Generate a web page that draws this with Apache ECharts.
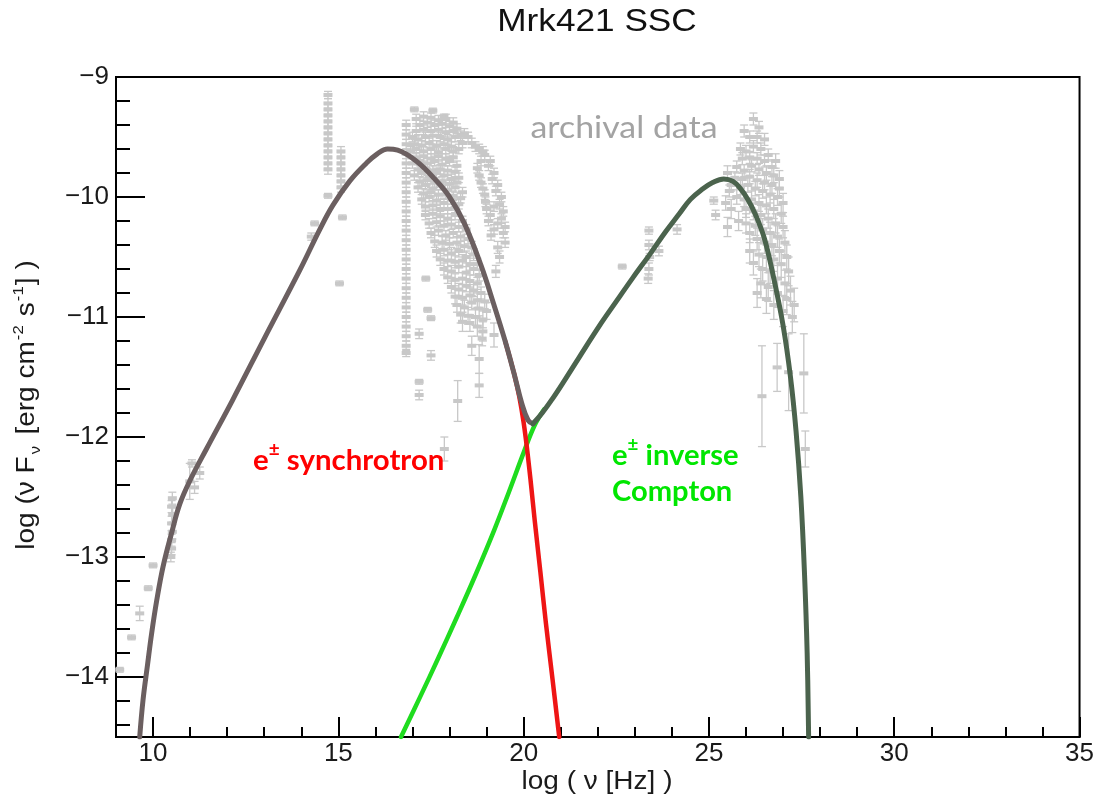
<!DOCTYPE html>
<html>
<head>
<meta charset="utf-8">
<script src="https://cdn.jsdelivr.net/npm/echarts@6/dist/echarts.min.js"></script>
<style>
html,body{margin:0;padding:0;background:#fff;}
#chart{width:1097px;height:798px;}
</style>
</head>
<body>
<div id="chart"></div>
<script>
// ---- Tick values ----
const xMajorTicks = [10, 15, 20, 25, 30, 35];
const xMinorTicks = [10, 11, 12, 13, 14, 15, 16, 17, 18, 19, 20, 21, 22, 23, 24, 25, 26, 27, 28, 29, 30, 31, 32, 33, 34, 35];
const yMajorTicks = [-14, -13, -12, -11, -10, -9];
const yMinorTicks = [-14.4, -14.2, -14, -13.8, -13.6, -13.4, -13.2, -13, -12.8, -12.6, -12.4, -12.2, -12,
  -11.8, -11.6, -11.4, -11.2, -11, -10.8, -10.6, -10.4, -10.2, -10, -9.8, -9.6, -9.4, -9.2];

// ---- Model curves [log nu, log nuFnu] ----
const totalSync = [
  [9.64, -14.5], [9.73, -14.19], [9.85, -13.9], [9.96, -13.64], [10.1, -13.36], [10.27, -13.08], [10.5, -12.8],
  [10.72, -12.56], [11.0, -12.36], [11.44, -12.1], [12.15, -11.69], [13.0, -11.18], [13.96, -10.61],
  [14.5, -10.27], [14.85, -10.07], [15.3, -9.87], [15.75, -9.72], [16.05, -9.64], [16.33, -9.6],
  [16.6, -9.61], [17.1, -9.7], [17.6, -9.85], [18.0, -10.0], [18.4, -10.22], [18.85, -10.57],
  [19.2, -10.9], [19.5, -11.2], [19.74, -11.47], [19.95, -11.72], [20.12, -11.86], [20.25, -11.89]
];
const totalIC = [
  [20.25, -11.89], [20.5, -11.8], [20.78, -11.68], [21.1, -11.53], [21.49, -11.34], [22.03, -11.08],
  [22.5, -10.87], [22.93, -10.68], [23.4, -10.48], [23.83, -10.29], [24.2, -10.14], [24.5, -10.02],
  [24.8, -9.94], [25.1, -9.88], [25.4, -9.85], [25.65, -9.87], [25.85, -9.93], [26.05, -10.02],
  [26.26, -10.15], [26.5, -10.35], [26.75, -10.68], [27.0, -11.07], [27.2, -11.5], [27.35, -11.95],
  [27.48, -12.5], [27.58, -13.15], [27.65, -13.8], [27.69, -14.5]
];
const syncComp = [
  [19.5, -11.2], [19.74, -11.47], [19.88, -11.66], [20.0, -11.88], [20.1, -12.12], [20.2, -12.4],
  [20.3, -12.7], [20.45, -13.12], [20.6, -13.55], [20.78, -14.02], [20.96, -14.5]
];
const icComp = [
  [16.69, -14.5], [17.2, -14.17], [17.7, -13.84], [18.2, -13.5], [18.7, -13.15], [19.2, -12.78],
  [19.6, -12.46], [20.0, -12.13], [20.3, -11.9], [20.55, -11.77]
];

// ---- Archival data [log nu, log nuFnu, error] ----
const archRadio = [
  [9.1, -13.94, 0.02], [9.42, -13.67, 0.02], [9.64, -13.47, 0.06], [9.87, -13.26, 0.02], [10.0, -13.07, 0.02],
  [10.48, -13.0, 0.04], [10.5, -12.93, 0.05], [10.5, -12.86, 0.05], [10.52, -12.79, 0.06], [10.5, -12.72, 0.06],
  [10.53, -12.65, 0.06], [10.5, -12.58, 0.05], [10.52, -12.51, 0.05],
  [10.99, -12.37, 0.15], [11.12, -12.42, 0.05], [11.26, -12.3, 0.05], [11.05, -12.22, 0.03]
];
const archMm = [
  [14.72, -9.15, 0.03], [14.72, -9.22, 0.04], [14.72, -9.27, 0.04], [14.72, -9.32, 0.04], [14.72, -9.37, 0.04],
  [14.72, -9.42, 0.04], [14.72, -9.47, 0.04], [14.72, -9.52, 0.04], [14.72, -9.57, 0.04], [14.72, -9.62, 0.04],
  [14.72, -9.67, 0.04], [14.72, -9.72, 0.04], [14.72, -9.77, 0.04], [14.72, -9.99, 0.02],
  [15.07, -9.62, 0.04], [15.07, -9.67, 0.04], [15.07, -9.72, 0.04], [15.07, -9.77, 0.04], [15.07, -9.82, 0.04],
  [15.07, -9.87, 0.04], [15.07, -9.92, 0.04],
  [14.36, -10.22, 0.02], [14.27, -10.33, 0.03], [15.11, -10.17, 0.02], [15.03, -10.72, 0.02]
];
const archOptX = [
  [16.83, -9.4, 0.04], [16.83, -9.48, 0.04], [16.83, -9.56, 0.04], [16.83, -9.64, 0.04], [16.83, -9.72, 0.04],
  [16.83, -9.8, 0.04], [16.83, -9.88, 0.04], [16.83, -9.96, 0.04], [16.83, -10.04, 0.04], [16.83, -10.12, 0.04],
  [16.83, -10.2, 0.04], [16.83, -10.28, 0.04], [16.83, -10.36, 0.04], [16.83, -10.44, 0.04], [16.83, -10.52, 0.04],
  [16.83, -10.6, 0.04], [16.83, -10.68, 0.04], [16.83, -10.76, 0.04], [16.83, -10.84, 0.04], [16.83, -10.92, 0.04],
  [16.83, -11.0, 0.04], [16.83, -11.08, 0.04], [16.83, -11.16, 0.04], [16.83, -11.24, 0.04], [16.83, -11.3, 0.03],
  [17.05, -9.27, 0.02], [17.55, -9.28, 0.02], [17.85, -9.33, 0.02],
  [17.2, -9.4, 0.04], [17.4, -9.38, 0.04], [17.6, -9.4, 0.04], [17.8, -9.39, 0.04], [18.0, -9.41, 0.04], [18.2, -9.43, 0.04], [18.4, -9.47, 0.04],
  [17.0, -9.5, 0.04], [17.15, -9.52, 0.04], [17.35, -9.5, 0.04], [17.55, -9.49, 0.04], [17.75, -9.5, 0.04], [17.95, -9.52, 0.04],
  [18.15, -9.5, 0.04], [18.35, -9.55, 0.04], [18.6, -9.55, 0.04], [18.8, -9.6, 0.04],
  [16.95, -9.62, 0.04], [17.1, -9.6, 0.04], [17.3, -9.62, 0.04], [17.5, -9.6, 0.04], [17.7, -9.63, 0.04], [17.9, -9.6, 0.04],
  [18.1, -9.62, 0.04], [18.95, -9.65, 0.04], [19.1, -9.7, 0.04],
  [17.0, -9.72, 0.04], [17.2, -9.7, 0.04], [17.4, -9.72, 0.04], [17.6, -9.7, 0.04], [17.8, -9.73, 0.04], [18.0, -9.7, 0.04],
  [18.2, -9.74, 0.04], [18.75, -9.76, 0.04], [19.2, -9.8, 0.04],
  [17.05, -9.82, 0.04], [17.25, -9.8, 0.04], [17.45, -9.83, 0.04], [17.65, -9.8, 0.04], [17.85, -9.82, 0.04], [18.05, -9.85, 0.04],
  [18.25, -9.84, 0.04], [18.85, -9.88, 0.04], [19.3, -9.9, 0.04],
  [17.15, -9.92, 0.04], [17.35, -9.9, 0.04], [17.55, -9.93, 0.04], [17.75, -9.9, 0.04], [17.95, -9.94, 0.04], [18.15, -9.92, 0.04],
  [18.35, -9.96, 0.04], [18.95, -9.98, 0.04], [19.4, -10.0, 0.04],
  [17.25, -10.02, 0.04], [17.45, -10.0, 0.04], [17.65, -10.03, 0.04], [17.85, -10.05, 0.04], [18.05, -10.02, 0.04], [18.25, -10.06, 0.04],
  [19.0, -10.1, 0.04], [19.2, -10.08, 0.04], [19.45, -10.12, 0.04],
  [17.35, -10.15, 0.04], [17.55, -10.14, 0.04], [17.75, -10.16, 0.04], [17.95, -10.18, 0.04], [18.15, -10.15, 0.04], [18.35, -10.2, 0.04],
  [19.05, -10.2, 0.04], [19.3, -10.22, 0.04], [19.5, -10.25, 0.04],
  [17.5, -10.3, 0.04], [17.7, -10.28, 0.04], [17.9, -10.32, 0.04], [18.1, -10.3, 0.04], [18.3, -10.33, 0.04], [18.5, -10.35, 0.04],
  [19.12, -10.32, 0.04], [19.5, -10.38, 0.04],
  [17.65, -10.45, 0.05], [17.85, -10.44, 0.05], [18.05, -10.47, 0.05], [18.25, -10.45, 0.05], [18.45, -10.5, 0.05], [18.65, -10.48, 0.05],
  [19.35, -10.5, 0.05],
  [17.85, -10.6, 0.05], [18.05, -10.62, 0.05], [18.25, -10.58, 0.05], [18.45, -10.63, 0.05], [18.65, -10.6, 0.05], [18.8, -10.65, 0.05],
  [19.25, -10.62, 0.05],
  [18.05, -10.75, 0.05], [18.25, -10.77, 0.05], [18.45, -10.74, 0.05], [18.65, -10.78, 0.05], [18.85, -10.8, 0.05],
  [18.2, -10.9, 0.06], [18.4, -10.92, 0.06], [18.6, -10.88, 0.06], [18.8, -10.93, 0.06], [19.0, -10.95, 0.07],
  [18.35, -11.04, 0.08], [18.55, -11.05, 0.07], [18.75, -11.08, 0.08], [18.9, -11.12, 0.08], [19.2, -11.15, 0.1],
  [18.6, -11.24, 0.08], [18.8, -11.35, 0.12], [18.88, -11.18, 0.06], [18.8, -11.57, 0.1],
  [17.36, -10.68, 0.02], [17.41, -10.94, 0.02], [17.5, -11.01, 0.02], [17.18, -11.14, 0.04], [17.5, -11.32, 0.04],
  [17.18, -11.54, 0.02], [17.18, -11.65, 0.04], [18.22, -11.7, 0.17], [17.86, -12.1, 0.1]
];
const archOptX2 = [
  [17.1, -9.35, 0.04], [17.3, -9.33, 0.04], [17.5, -9.34, 0.04], [17.7, -9.36, 0.04], [17.9, -9.35, 0.04], [18.1, -9.38, 0.04],
  [17.1, -9.45, 0.04], [17.3, -9.44, 0.04], [17.5, -9.45, 0.04], [17.7, -9.44, 0.04], [17.9, -9.46, 0.04], [18.1, -9.45, 0.04], [18.3, -9.49, 0.04], [18.5, -9.5, 0.04],
  [17.05, -9.56, 0.04], [17.25, -9.57, 0.04], [17.45, -9.55, 0.04], [17.65, -9.57, 0.04], [17.85, -9.56, 0.04], [18.05, -9.58, 0.04], [18.25, -9.6, 0.04], [18.7, -9.58, 0.04], [18.9, -9.62, 0.04],
  [17.1, -9.67, 0.04], [17.3, -9.66, 0.04], [17.5, -9.68, 0.04], [17.7, -9.66, 0.04], [17.9, -9.68, 0.04], [18.1, -9.67, 0.04], [18.85, -9.7, 0.04], [19.05, -9.74, 0.04],
  [17.15, -9.77, 0.04], [17.35, -9.76, 0.04], [17.55, -9.78, 0.04], [17.75, -9.77, 0.04], [17.95, -9.78, 0.04], [18.15, -9.79, 0.04], [18.8, -9.82, 0.04], [19.15, -9.85, 0.04],
  [17.2, -9.87, 0.04], [17.4, -9.86, 0.04], [17.6, -9.88, 0.04], [17.8, -9.87, 0.04], [18.0, -9.89, 0.04], [18.2, -9.88, 0.04], [18.9, -9.93, 0.04], [19.25, -9.95, 0.04],
  [17.3, -9.97, 0.04], [17.5, -9.96, 0.04], [17.7, -9.98, 0.04], [17.9, -9.98, 0.04], [18.1, -9.99, 0.04], [18.3, -10.01, 0.04], [18.97, -10.04, 0.04], [19.35, -10.06, 0.04],
  [17.35, -10.08, 0.04], [17.55, -10.07, 0.04], [17.75, -10.1, 0.04], [17.95, -10.1, 0.04], [18.15, -10.09, 0.04], [19.1, -10.15, 0.04], [19.4, -10.18, 0.04],
  [17.45, -10.22, 0.04], [17.65, -10.21, 0.04], [17.85, -10.24, 0.04], [18.05, -10.23, 0.04], [18.25, -10.25, 0.04], [18.45, -10.27, 0.04], [19.2, -10.27, 0.04], [19.45, -10.3, 0.04],
  [17.6, -10.37, 0.05], [17.8, -10.38, 0.05], [18.0, -10.39, 0.05], [18.2, -10.38, 0.05], [18.4, -10.41, 0.05], [18.6, -10.42, 0.05], [19.3, -10.42, 0.05],
  [17.75, -10.52, 0.05], [17.95, -10.53, 0.05], [18.15, -10.54, 0.05], [18.35, -10.53, 0.05], [18.55, -10.56, 0.05], [18.75, -10.56, 0.05],
  [17.95, -10.67, 0.05], [18.15, -10.69, 0.05], [18.35, -10.68, 0.05], [18.55, -10.7, 0.05], [18.75, -10.72, 0.05],
  [18.15, -10.83, 0.06], [18.35, -10.84, 0.06], [18.55, -10.82, 0.06], [18.75, -10.86, 0.06], [18.95, -10.87, 0.06],
  [18.3, -10.98, 0.07], [18.5, -10.99, 0.07], [18.7, -11.0, 0.07], [18.9, -11.02, 0.07]
];
const archGamma = [
  [22.66, -10.58, 0.02],
  [23.38, -10.28, 0.03], [23.38, -10.4, 0.04], [23.4, -10.5, 0.03], [23.38, -10.6, 0.05], [23.36, -10.68, 0.04],
  [23.65, -10.45, 0.04], [24.14, -10.27, 0.04], [25.13, -10.03, 0.03], [25.18, -10.15, 0.04],
  [26.2, -9.35, 0.05], [26.35, -9.42, 0.05], [26.1, -9.5, 0.05],
  [25.85, -9.6, 0.05], [26.0, -9.62, 0.05], [26.2, -9.58, 0.05], [26.4, -9.6, 0.05], [26.6, -9.65, 0.05], [26.8, -9.7, 0.06],
  [25.75, -9.75, 0.05], [25.95, -9.78, 0.05], [26.15, -9.74, 0.05], [26.35, -9.77, 0.05], [26.55, -9.8, 0.06], [26.75, -9.82, 0.06], [26.9, -9.85, 0.07],
  [25.5, -9.8, 0.06], [25.55, -9.95, 0.05],
  [25.6, -9.9, 0.05], [25.85, -9.92, 0.06], [26.05, -9.9, 0.06], [26.25, -9.93, 0.06], [26.45, -9.95, 0.06], [26.65, -9.98, 0.07], [26.85, -10.0, 0.07], [27.0, -10.05, 0.08],
  [25.45, -10.05, 0.06], [25.6, -10.1, 0.08], [26.0, -10.1, 0.07], [26.2, -10.12, 0.07], [26.4, -10.15, 0.08], [26.6, -10.18, 0.08], [26.8, -10.22, 0.08], [27.0, -10.25, 0.09],
  [25.5, -10.25, 0.08], [26.1, -10.3, 0.08], [26.3, -10.35, 0.09], [26.5, -10.38, 0.09], [26.7, -10.4, 0.09], [26.9, -10.45, 0.1], [27.1, -10.5, 0.1],
  [26.2, -10.55, 0.1], [26.45, -10.6, 0.1], [26.65, -10.62, 0.1], [26.85, -10.68, 0.11], [27.05, -10.72, 0.11], [27.2, -10.78, 0.12],
  [26.3, -10.8, 0.12], [26.55, -10.85, 0.12], [26.75, -10.9, 0.12], [27.0, -10.95, 0.13], [27.25, -11.0, 0.13],
  [26.43, -11.66, 0.42], [26.84, -11.42, 0.2], [27.15, -11.46, 0.32], [27.56, -11.47, 0.33], [27.6, -12.1, 0.15]
];
const archGamma2 = [
  [25.95, -9.45, 0.05], [26.3, -9.5, 0.05], [26.5, -9.52, 0.05], [25.9, -9.68, 0.05], [26.1, -9.67, 0.05], [26.3, -9.68, 0.05],
  [26.5, -9.7, 0.05], [26.7, -9.75, 0.06], [25.7, -9.84, 0.05], [25.9, -9.85, 0.05], [26.1, -9.83, 0.06], [26.3, -9.86, 0.06],
  [26.5, -9.88, 0.06], [26.7, -9.9, 0.07], [26.9, -9.93, 0.07], [25.75, -10.0, 0.06], [25.95, -10.02, 0.06], [26.15, -10.02, 0.07],
  [26.35, -10.05, 0.07], [26.55, -10.07, 0.07], [26.75, -10.1, 0.08], [26.95, -10.14, 0.08], [25.8, -10.2, 0.08], [26.0, -10.22, 0.08],
  [26.25, -10.24, 0.08], [26.45, -10.27, 0.09], [26.65, -10.3, 0.09], [26.85, -10.33, 0.09], [27.05, -10.38, 0.1], [26.1, -10.45, 0.1],
  [26.35, -10.48, 0.1], [26.55, -10.5, 0.1], [26.75, -10.52, 0.1], [26.95, -10.56, 0.11], [27.15, -10.62, 0.12], [26.4, -10.72, 0.12],
  [26.6, -10.75, 0.12], [26.85, -10.8, 0.12], [27.1, -10.85, 0.13], [27.3, -10.9, 0.14]
];

// ---- Texts ----
const titleText = 'Mrk421 SSC';
const xTitle = 'log ( \u03bd [Hz] )';

const AXIS_FONT = '"Liberation Sans", Arial, Helvetica, sans-serif';
const NOTE_FONT = 'Lato, "Open Sans", sans-serif';
const ERR_COLOR = '#c8c8c8';

function fmtTick(v) {
  return (v < 0 ? '\u2212' : '') + Math.abs(v);
}

function renderErr(params, api) {
  const x = api.value(0), y = api.value(1), e = api.value(2);
  const c = api.coord([x, y]);
  const t = api.coord([x, y + e]);
  const b = api.coord([x, y - e]);
  const st = { stroke: ERR_COLOR, lineWidth: 1.3 };
  return {
    type: 'group',
    children: [
      { type: 'line', shape: { x1: c[0], y1: t[1], x2: c[0], y2: b[1] }, style: st },
      { type: 'line', shape: { x1: c[0] - 4, y1: t[1], x2: c[0] + 4, y2: t[1] }, style: st },
      { type: 'line', shape: { x1: c[0] - 4, y1: b[1], x2: c[0] + 4, y2: b[1] }, style: st },
      { type: 'rect', shape: { x: c[0] - 4.5, y: c[1] - 2, width: 9, height: 4 }, style: { fill: ERR_COLOR } }
    ]
  };
}

function errSeries(name, data) {
  return {
    name: name, type: 'custom', renderItem: renderErr, data: data,
    encode: { x: 0, y: 1 }, xAxisIndex: 0, yAxisIndex: 0, z: 1, silent: true
  };
}

function lineSeries(name, data, color, width, z) {
  return {
    name: name, type: 'line', data: data, showSymbol: false, smooth: 0.4,
    lineStyle: { color: color, width: width, cap: 'round', join: 'round' },
    xAxisIndex: 0, yAxisIndex: 0, z: z, silent: true
  };
}

const chart = echarts.init(document.getElementById('chart'), null, { renderer: 'canvas' });

const axisLineStyle = { color: '#000', width: 2 };

const option = {
  animation: false,
  backgroundColor: '#fff',
  grid: { left: 116, right: 16, top: 77, bottom: 61, show: true, borderColor: '#000', borderWidth: 2, containLabel: false },
  xAxis: [
    {
      type: 'value', min: 9, max: 35, position: 'bottom',
      axisLine: { show: true, onZero: false, lineStyle: axisLineStyle },
      axisTick: { show: true, inside: true, length: 10, customValues: xMinorTicks, lineStyle: axisLineStyle },
      axisLabel: { show: true, customValues: xMajorTicks, margin: 4, fontSize: 26, color: '#1a1a1a', fontFamily: AXIS_FONT, formatter: fmtTick },
      splitLine: { show: false }
    },
    {
      type: 'value', min: 9, max: 35, position: 'bottom', offset: 0,
      axisLine: { show: false },
      axisTick: { show: true, inside: true, length: 20, customValues: xMajorTicks, lineStyle: axisLineStyle },
      axisLabel: { show: false },
      splitLine: { show: false }
    }
  ],
  yAxis: [
    {
      type: 'value', min: -14.5, max: -9, position: 'left',
      axisLine: { show: true, onZero: false, lineStyle: axisLineStyle },
      axisTick: { show: true, inside: true, length: 14, customValues: yMinorTicks, lineStyle: axisLineStyle },
      axisLabel: { show: true, customValues: yMajorTicks, margin: 7, fontSize: 26, color: '#1a1a1a', fontFamily: AXIS_FONT, formatter: fmtTick },
      splitLine: { show: false }
    },
    {
      type: 'value', min: -14.5, max: -9, position: 'left', offset: 0,
      axisLine: { show: false },
      axisTick: { show: true, inside: true, length: 29, customValues: yMajorTicks, lineStyle: axisLineStyle },
      axisLabel: { show: false },
      splitLine: { show: false }
    }
  ],
  series: [
    errSeries('archival radio', archRadio),
    errSeries('archival mm', archMm),
    errSeries('archival optical-X', archOptX),
    errSeries('archival optical-X 2', archOptX2),
    errSeries('archival gamma', archGamma),
    errSeries('archival gamma 2', archGamma2),
    lineSeries('IC component', icComp, '#1fdc1f', 4.5, 3),
    lineSeries('synchrotron component', syncComp, '#ee1515', 4.5, 3),
    lineSeries('total (sync)', totalSync, '#6b5f60', 5, 4),
    lineSeries('total (IC)', totalIC, '#4b634d', 5, 4)
  ],
  graphic: [
    { type: 'text', x: 597, y: 22, z: 10, scaleX: 1.1,
      style: { text: titleText, fontSize: 32, fontFamily: AXIS_FONT, fill: '#111', align: 'center', verticalAlign: 'middle' } },
    { type: 'text', x: 597, y: 782, z: 10, scaleX: 1.12,
      style: { text: xTitle, fontSize: 25, fontFamily: AXIS_FONT, fill: '#1a1a1a', align: 'center', verticalAlign: 'middle' } },
    { type: 'text', x: 27, y: 405, rotation: Math.PI / 2, scaleX: 1.12, z: 10,
      style: {
        text: '{n|log (\u03bd F}{sub|\u03bd}{n| [erg cm}{sup|-2}{n| s}{sup|-1}{n|] )}',
        align: 'center', verticalAlign: 'middle',
        rich: {
          n: { fontSize: 25, fontFamily: AXIS_FONT, fill: '#1a1a1a', lineHeight: 38, verticalAlign: 'middle' },
          sub: { fontSize: 15, fontFamily: AXIS_FONT, fill: '#1a1a1a', lineHeight: 15, verticalAlign: 'bottom', padding: [0, 3, 3, 2] },
          sup: { fontSize: 15, fontFamily: AXIS_FONT, fill: '#1a1a1a', lineHeight: 15, verticalAlign: 'top', padding: [3, 1, 0, 1] }
        }
      } },
    { type: 'text', x: 624, y: 128, z: 10, scaleX: 1.13,
      style: { text: 'archival data', fontSize: 30, fontFamily: NOTE_FONT, fill: '#a3a3a3', align: 'center', verticalAlign: 'middle' } },
    { type: 'text', x: 253, y: 458, z: 10, scaleX: 1.05,
      style: {
        text: '{b|e}{s|\u00b1}{b| synchrotron}', align: 'left', verticalAlign: 'middle',
        rich: {
          b: { fontSize: 28, fontWeight: 'bold', fontFamily: NOTE_FONT, fill: '#ff0000', lineHeight: 34, verticalAlign: 'bottom' },
          s: { fontSize: 18, fontWeight: 'bold', fontFamily: NOTE_FONT, fill: '#ff0000', lineHeight: 18, verticalAlign: 'top' }
        }
      } },
    { type: 'text', x: 612, y: 453, z: 10, scaleX: 1.04,
      style: {
        text: '{b|e}{s|\u00b1}{b| inverse}', align: 'left', verticalAlign: 'middle',
        rich: {
          b: { fontSize: 28, fontWeight: 'bold', fontFamily: NOTE_FONT, fill: '#00e600', lineHeight: 34, verticalAlign: 'bottom' },
          s: { fontSize: 18, fontWeight: 'bold', fontFamily: NOTE_FONT, fill: '#00e600', lineHeight: 18, verticalAlign: 'top' }
        }
      } },
    { type: 'text', x: 612, y: 492, z: 10, scaleX: 1.04,
      style: { text: 'Compton', fontSize: 28, fontWeight: 'bold', fontFamily: NOTE_FONT, fill: '#00e600', align: 'left', verticalAlign: 'middle' } }
  ]
};

chart.setOption(option);
</script>
</body>
</html>
